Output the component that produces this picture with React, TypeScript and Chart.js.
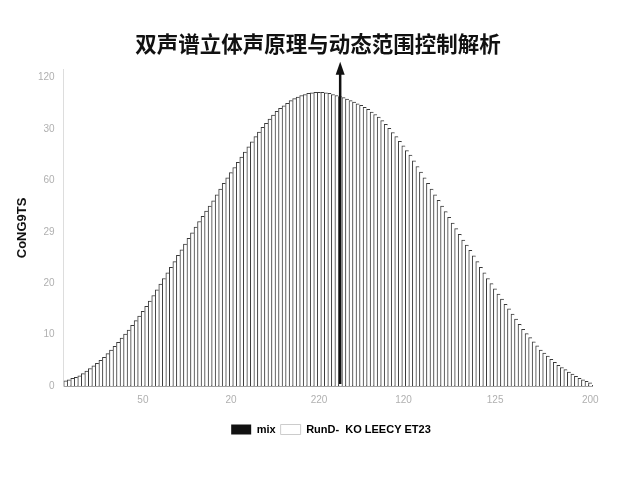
import { useEffect, useRef } from "react";
import { Chart, registerables } from "chart.js";

Chart.register(...registerables);

const TITLE = "双声谱立体声原理与动态范围控制解析";
const Y_TITLE = "CoNG9TS";

const VALUES = [
  1.0, 1.2, 1.5, 1.7, 2.0, 2.4, 2.9, 3.4, 3.9, 4.4,
  5.0, 5.6, 6.3, 7.0, 7.7, 8.5, 9.3, 10.1, 10.9, 11.8,
  12.7, 13.6, 14.5, 15.5, 16.5, 17.6, 18.7, 19.8, 20.9, 22.0,
  23.1, 24.2, 25.4, 26.5, 27.6, 28.7, 29.8, 30.9, 32.0, 33.0,
  34.0, 35.0, 36.0, 37.2, 38.3, 39.4, 40.5, 41.5, 42.5, 43.5,
  44.5, 45.5, 46.5, 47.5, 48.5, 49.4, 50.3, 51.1, 51.9, 52.7,
  53.4, 54.0, 54.5, 55.0, 55.5, 55.9, 56.2, 56.5, 56.7, 56.9,
  57.0, 57.1, 57.1, 57.1, 57.0, 56.9, 56.7, 56.5, 56.3, 56.1,
  55.8, 55.5, 55.2, 54.9, 54.6, 54.2, 53.8, 53.3, 52.8, 52.3,
  51.6, 50.9, 50.1, 49.3, 48.5, 47.6, 46.7, 45.8, 44.9, 43.8,
  42.7, 41.6, 40.5, 39.4, 38.3, 37.2, 36.1, 35.0, 33.9, 32.8,
  31.7, 30.6, 29.5, 28.4, 27.4, 26.4, 25.3, 24.2, 23.1, 22.0,
  20.9, 19.9, 18.9, 17.9, 16.9, 15.9, 15.0, 14.0, 13.0, 12.0,
  11.0, 10.2, 9.4, 8.6, 7.8, 7.0, 6.4, 5.8, 5.2, 4.6,
  4.0, 3.6, 3.2, 2.7, 2.3, 1.9, 1.5, 1.2, 0.9, 0.6,
];
const CATEGORIES = VALUES.map((_, i) => String(i));

const X_TICK_INDEX = [22, 47, 72, 96, 122, 149];
const X_TICK_LABELS = ["50", "20", "220", "120", "125", "200"];

const Y_TICK_VALUES = [0, 10, 20, 30, 40, 50, 60];
const Y_TICK_LABELS = ["0", "10", "20", "29", "60", "30", "120"];
const Y_MAX = 61.5;

const LEGEND_LABELS = ["mix", "RunD-  KO LEECY ET23"];
const ARROW_INDEX = 78;

const arrowPlugin = {
  id: "arrowMark",
  afterDatasetsDraw(chart: any) {
    const { ctx, scales, chartArea } = chart;
    const px = scales.x.getPixelForValue(ARROW_INDEX);
    const y0 = scales.y.getPixelForValue(0);
    const yTop = chartArea.top - 8;
    ctx.save();
    ctx.strokeStyle = "#111";
    ctx.lineWidth = 2.5;
    ctx.beginPath();
    ctx.moveTo(px, y0 - 2);
    ctx.lineTo(px, yTop + 10);
    ctx.stroke();
    ctx.fillStyle = "#111";
    ctx.beginPath();
    ctx.moveTo(px, yTop);
    ctx.lineTo(px - 4.5, yTop + 13);
    ctx.lineTo(px + 4.5, yTop + 13);
    ctx.closePath();
    ctx.fill();
    ctx.restore();
  },
};

const legendShiftPlugin = {
  id: "legendShift",
  afterLayout(chart: any) {
    const lg = chart.legend;
    if (lg) {
      lg.left += 13;
      lg.right += 13;
    }
  },
};

export default function App() {
  const ref = useRef<HTMLCanvasElement | null>(null);

  useEffect(() => {
    if (!ref.current) return;
    Chart.defaults.font.family = "'Liberation Sans', Arial, sans-serif";
    const chart = new Chart(ref.current, {
      type: "bar",
      data: {
        labels: CATEGORIES,
        datasets: [
          {
            label: LEGEND_LABELS[0],
            data: VALUES,
            backgroundColor: "#ffffff",
            borderColor: "#3a3a3a",
            borderWidth: { top: 1, left: 1, right: 0, bottom: 0 } as any,
            borderSkipped: false as any,
            barPercentage: 1,
            categoryPercentage: 1,
          },
        ],
      },
      options: {
        animation: false,
        responsive: false,
        layout: { padding: { left: 16, right: 20, top: 0, bottom: 35 } },
        plugins: {
          title: {
            display: true,
            text: TITLE,
            color: "#111",
            font: { size: 21.5, weight: "bold", family: "'Noto Sans CJK SC', sans-serif" },
            padding: { top: 31, bottom: 13 },
          },
          legend: {
            display: true,
            position: "bottom",
            onClick: () => {},
            labels: {
              boxWidth: 20,
              boxHeight: 10,
              color: "#222",
              font: { size: 11, weight: "bold" },
              padding: 5,
              generateLabels: () => [
                {
                  text: LEGEND_LABELS[0],
                  fillStyle: "#111",
                  strokeStyle: "#111",
                  lineWidth: 0,
                  hidden: false,
                  datasetIndex: 0,
                },
                {
                  text: LEGEND_LABELS[1],
                  fillStyle: "#ffffff",
                  strokeStyle: "#cccccc",
                  lineWidth: 1,
                  hidden: false,
                  datasetIndex: 0,
                },
              ],
            },
          },
          tooltip: { enabled: false },
        },
        scales: {
          x: {
            type: "category",
            grid: { display: false },
            border: { display: true, color: "#444", width: 1.5 },
            afterFit: (scale: any) => {
              scale.height = scale.height + 13;
            },
            ticks: {
              autoSkip: false,
              maxRotation: 0,
              minRotation: 0,
              color: "#b0b0b0",
              font: { size: 10 },
              padding: 0,
              callback: (_v: any, idx: number) => {
                const k = X_TICK_INDEX.indexOf(idx);
                return k >= 0 ? X_TICK_LABELS[k] : null;
              },
            },
          },
          y: {
            min: 0,
            max: Y_MAX,
            grid: { display: false, drawTicks: false },
            border: { display: true, color: "#dddddd", width: 1 },
            afterBuildTicks: (scale: any) => {
              scale.ticks = Y_TICK_VALUES.map((v) => ({ value: v }));
            },
            ticks: {
              stepSize: 10,
              color: "#b0b0b0",
              font: { size: 10 },
              padding: 9,
              callback: (v: any) => {
                const k = Y_TICK_VALUES.indexOf(Number(v));
                return k >= 0 ? Y_TICK_LABELS[k] : null;
              },
            },
            title: {
              display: true,
              text: Y_TITLE,
              color: "#111",
              font: { size: 13, weight: "bold", lineHeight: 1 },
              padding: { top: 0, bottom: 0 },
            },
          },
          yRight: {
            type: "linear",
            position: "right",
            display: true,
            min: 0,
            max: Y_MAX,
            grid: { display: false, drawTicks: false },
            border: { display: false },
            ticks: { display: false },
            afterFit: (scale: any) => {
              scale.width = 28;
            },
          },
        },
      },
      plugins: [arrowPlugin, legendShiftPlugin],
    });
    return () => chart.destroy();
  }, []);

  return (
    <div style={{ position: "fixed", left: 0, top: 0, width: 640, height: 480, background: "#fff" }}>
      <canvas ref={ref} width={640} height={480} />
    </div>
  );
}
